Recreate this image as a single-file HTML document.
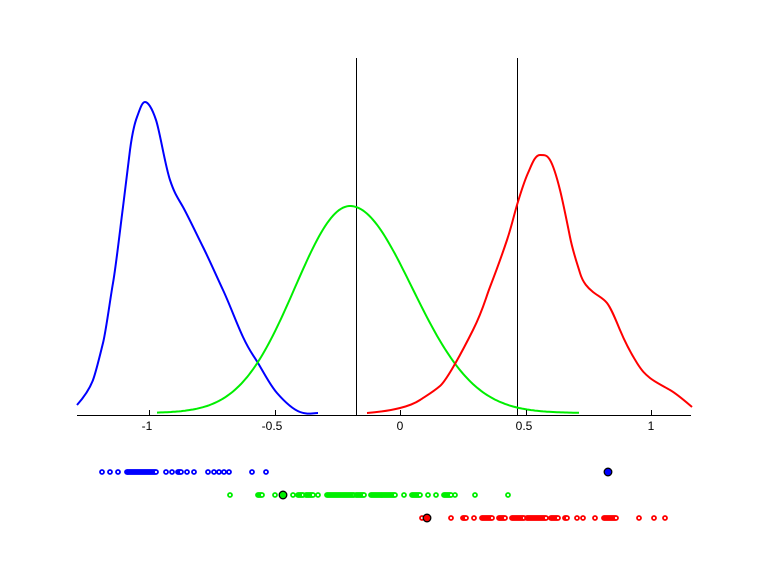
<!DOCTYPE html>
<html><head><meta charset="utf-8"><style>
html,body{margin:0;padding:0;background:#fff;}
svg{display:block;}
text{font-family:"Liberation Sans",sans-serif;font-size:12px;}
</style></head><body>
<svg id="s" width="768" height="576" viewBox="0 0 768 576" xmlns="http://www.w3.org/2000/svg">
<rect width="768" height="576" fill="#fff"/>
<line x1="356.5" y1="58" x2="356.5" y2="415" stroke="#000" stroke-width="1"/>
<line x1="517.5" y1="58" x2="517.5" y2="415" stroke="#000" stroke-width="1"/>
<path fill="none" stroke="#0000ff" stroke-width="2" stroke-linejoin="round" d="M77,405 C85,396 90,388 93,380 S100,355 103,343 S110,300 113,283 S120,230 123,207 S128,165 130,150 S134,125 137,117 S142,102 145,102 S152,108 156,120 S165,165 170,180 S178,198 183,207 S197,235 203,247 S216,275 223,290 S236,322 243,337 S252,353 258,363 S270,385 277,393 S292,409 300,412 S312,413 318,413"/>
<path id="g" fill="none" stroke="#00ee00" stroke-width="2" d=""/>
<path fill="none" stroke="#ff0000" stroke-width="2" stroke-linejoin="round" d="M367,413 C380,412 392,410 400,408 S414,404 420,400 S433,392 440,386 S463,350 473,330 S485,300 490,287 S502,255 507,240 S514,215 517,205 S524,182 528,173 S535,155 540,155 S547,155 550,160 S557,178 560,190 S567,222 570,237 S577,263 580,273 S588,288 593,292 S603,298 607,303 S615,318 620,330 S632,355 637,363 S645,374 650,378 S663,386 670,390 S685,401 692,407"/>
<line x1="77" y1="415.5" x2="691" y2="415.5" stroke="#000" stroke-width="1"/>
<g stroke="#000" stroke-width="1">
<line x1="149.5" y1="410" x2="149.5" y2="415"/>
<line x1="275.5" y1="410" x2="275.5" y2="415"/>
<line x1="400.5" y1="410" x2="400.5" y2="415"/>
<line x1="526.5" y1="410" x2="526.5" y2="415"/>
<line x1="651.5" y1="410" x2="651.5" y2="415"/>
</g>
<g text-anchor="middle" fill="#000">
<text x="147" y="430">-1</text>
<text x="272" y="430">-0.5</text>
<text x="400" y="430">0</text>
<text x="524" y="430">0.5</text>
<text x="651" y="430">1</text>
</g>
<g id="dots"></g>
</svg>
<script>
(function(){
var ns="http://www.w3.org/2000/svg";
var d="";
for(var x=157;x<=580;x+=2){var dx=x-350,s=dx<0?55:62;var y=413-207*Math.exp(-dx*dx/(2*s*s));d+=(d?"L":"M")+x+","+y.toFixed(1);}
document.getElementById("g").setAttribute("d",d);
function expand(list){var out=[];list.forEach(function(v){if(Array.isArray(v)){for(var x=v[0];x<=v[1];x+=1)out.push(x);}else out.push(v);});return out;}
var rows=[
 {y:472,c:"#0000ff",xs:[102,110,118,[127,156],166,172,[178,181],187,194,208,214,219,224,229,252,266]},
 {y:495,c:"#00ee00",xs:[230,[258,262],275,293,[298,303],[306,313],318,[327,354],[356,364],[371,395],404,[412,420],428,436,[444,451],455,475,508]},
 {y:518,c:"#ff0000",xs:[422,451,[463,466],474,[482,492],[499,505],[512,524],[527,546],[551,558],[565,567],577,583,595,[604,616],639,654,665]}
];
var g=document.getElementById("dots");
rows.forEach(function(r){expand(r.xs).forEach(function(x){var c=document.createElementNS(ns,"circle");c.setAttribute("cx",x);c.setAttribute("cy",r.y);c.setAttribute("r","2");c.setAttribute("fill","#fff");c.setAttribute("stroke",r.c);c.setAttribute("stroke-width","1.8");g.appendChild(c);});});
[[608,472,"#0000ff"],[283,495,"#00ee00"],[427,518,"#ff0000"]].forEach(function(b){var c=document.createElementNS(ns,"circle");c.setAttribute("cx",b[0]);c.setAttribute("cy",b[1]);c.setAttribute("r","3.8");c.setAttribute("fill",b[2]);c.setAttribute("stroke","#000");c.setAttribute("stroke-width","1.3");g.appendChild(c);});
})();
</script>
</body></html>
